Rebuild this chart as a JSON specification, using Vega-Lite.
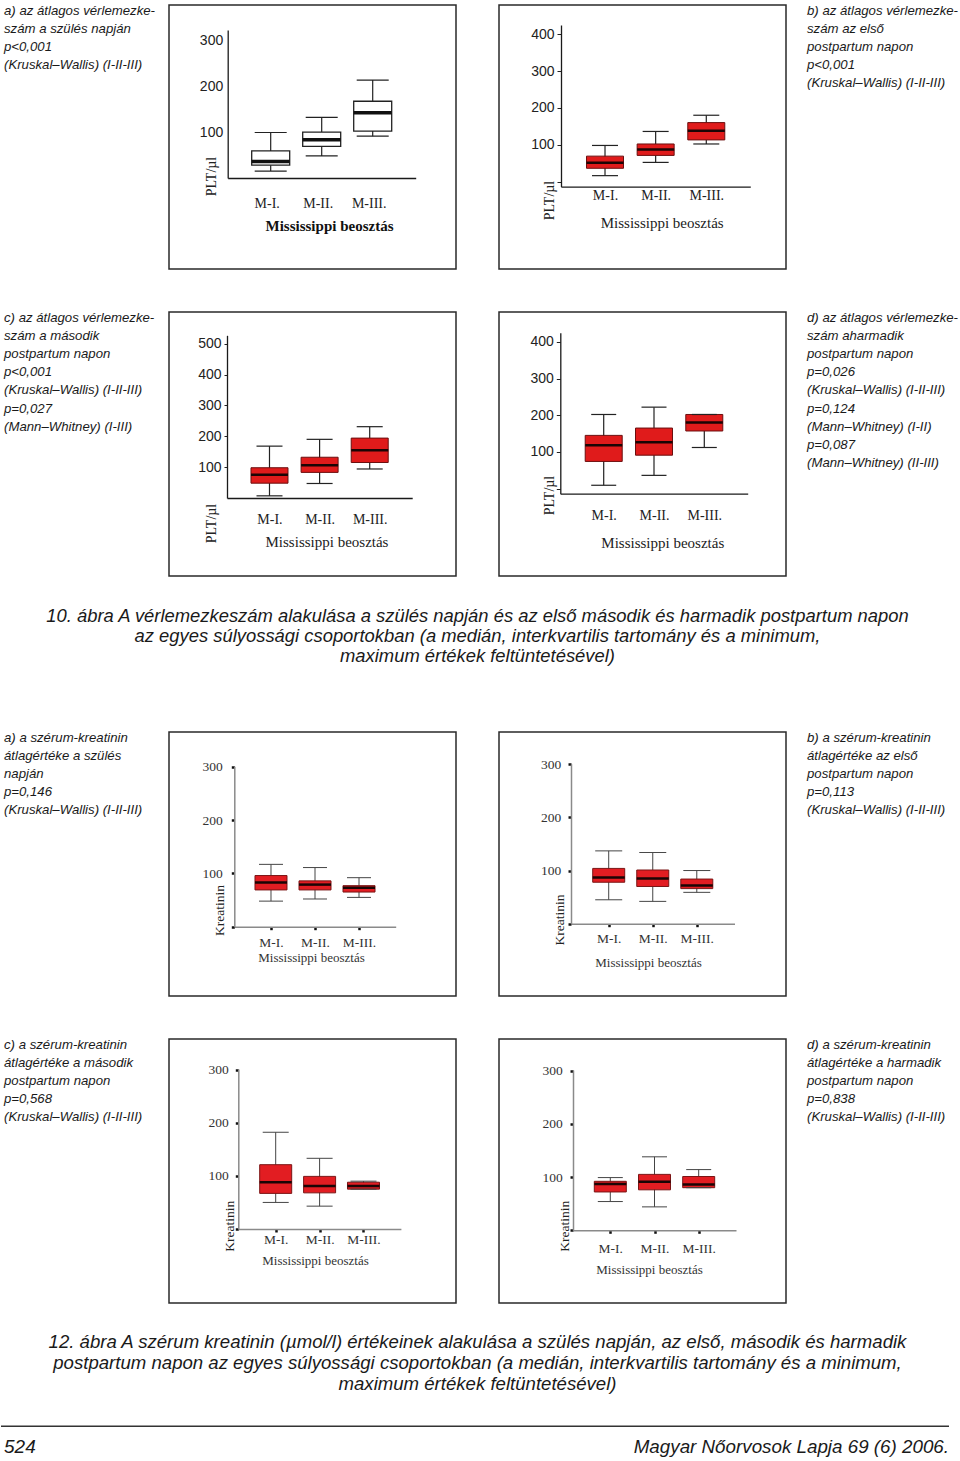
{
"$schema":"https://vega.github.io/schema/vega-lite/v6.json",
"padding":{"top":4,"left":0,"right":0,"bottom":0},
"background":"#ffffff",
"config":{"view":{"stroke":null},"axis":{"grid":false},"font":"Liberation Sans"},
"vconcat":[
{"hconcat":[
 {"width":168,"height":306,"data":{"values":[{"line":0,"text":"a) az átlagos vérlemezke-"},{"line":1,"text":"szám a szülés napján"},{"line":2,"text":"p<0,001"},{"line":3,"text":"(Kruskal–Wallis) (I-II-III)"}]},
  "mark":{"type":"text","align":"left","baseline":"middle","font":"Liberation Sans","fontStyle":"italic","fontSize":13.2,"color":"#1a1a1a"},
  "encoding":{"x":{"datum":0,"type":"quantitative","scale":{"domain":[0,1],"range":[3,100]},"axis":null},"y":{"field":"line","type":"quantitative","scale":{"domain":[0,10],"range":[6,187]},"axis":null},"text":{"field":"text"}}},
 {"width":287,"height":264,"view":{"stroke":"#2a2a2a","strokeWidth":1.5},
  "data":{"values":[{"group":"M-I.","min":15,"q1":28,"median":36,"q3":59,"max":99},{"group":"M-II.","min":48,"q1":69,"median":83,"q3":100,"max":132},{"group":"M-III.","min":91,"q1":102,"median":142,"q3":167,"max":213}]},
  "encoding":{"x":{"field":"group","type":"nominal","sort":null,"scale":{"type":"point","domain":["M-I.","M-II.","M-III."],"range":[58.7,246.7],"padding":0.843},
   "axis":{"orient":"bottom","offset":-91,"labelAngle":0,"labelBaseline":"middle","labelPadding":25,"labelOffset":-4,"ticks":true,"tickSize":0,"labelFont":"Liberation Serif","labelFontSize":14,"labelColor":"#222","domainColor":"#1a1a1a","domainWidth":1.3,"title":"Mississippi beosztás","titleX":160,"titleY":47,"titleAlign":"center","titleBaseline":"middle","titleFont":"Liberation Serif","titleFontSize":15,"titleFontWeight":"bold","titleColor":"#111"}}},
  "layer":[
   {"mark":{"type":"rule","color":"#222","strokeWidth":1.2},"encoding":{"y":{"field":"min","type":"quantitative","scale":{"domain":[0,322],"range":[173,25],"nice":false,"zero":false},
     "axis":{"orient":"left","offset":-58.7,"values":[100,200,300],"ticks":true,"tickSize":0,"labelPadding":5,"labelFont":"Liberation Sans","labelFontSize":14,"labelColor":"#222","domainColor":"#1a1a1a","domainWidth":1.3,"title":"PLT/µl","titleX":-16.7,"titleY":171,"titleAngle":270,"titleAlign":"center","titleBaseline":"middle","titleFont":"Liberation Serif","titleFontSize":14,"titleFontWeight":"normal","titleColor":"#222"}},"y2":{"field":"max"}}},
   {"mark":{"type":"bar","width":38,"fill":"#ffffff","stroke":"#222","strokeWidth":1.3},"encoding":{"y":{"field":"q1","type":"quantitative"},"y2":{"field":"q3"}}},
   {"mark":{"type":"tick","color":"#111","thickness":3.5,"size":38,"opacity":1},"encoding":{"y":{"field":"median","type":"quantitative"}}},
   {"mark":{"type":"tick","color":"#222","thickness":1.2,"size":32,"opacity":1},"encoding":{"y":{"field":"min","type":"quantitative"}}},
   {"mark":{"type":"tick","color":"#222","thickness":1.2,"size":32,"opacity":1},"encoding":{"y":{"field":"max","type":"quantitative"}}}
  ]},
 {"width":43,"height":264,"data":{"values":[{}]},"mark":{"type":"text"},"encoding":{"text":{"value":""}}},
 {"width":287,"height":264,"view":{"stroke":"#2a2a2a","strokeWidth":1.5},
  "data":{"values":[{"group":"M-I.","min":16,"q1":36,"median":51,"q3":69,"max":98},{"group":"M-II.","min":52,"q1":71,"median":87,"q3":102,"max":136},{"group":"M-III.","min":102,"q1":113,"median":138,"q3":160,"max":180}]},
  "encoding":{"x":{"field":"group","type":"nominal","sort":null,"scale":{"type":"point","domain":["M-I.","M-II.","M-III."],"range":[62,251.3],"padding":0.869},
   "axis":{"orient":"bottom","offset":-82.3,"labelAngle":0,"labelBaseline":"middle","labelPadding":9,"ticks":true,"tickSize":0,"labelFont":"Liberation Serif","labelFontSize":14,"labelColor":"#222","domainColor":"#1a1a1a","domainWidth":1.3,"title":"Mississippi beosztás","titleX":162.7,"titleY":36,"titleAlign":"center","titleBaseline":"middle","titleFont":"Liberation Serif","titleFontSize":15,"titleFontWeight":"normal","titleColor":"#222"}}},
  "layer":[
   {"mark":{"type":"rule","color":"#222","strokeWidth":1.2},"encoding":{"y":{"field":"min","type":"quantitative","scale":{"domain":[-14,425],"range":[181.7,20],"nice":false,"zero":false},
     "axis":{"orient":"left","offset":-62,"values":[0,100,200,300,400],"labelExpr":"datum.value === 0 ? '' : datum.label","ticks":true,"tickSize":4,"tickColor":"#222","labelPadding":3,"labelFont":"Liberation Sans","labelFontSize":14,"labelColor":"#222","domainColor":"#1a1a1a","domainWidth":1.3,"title":"PLT/µl","titleX":-12,"titleY":195,"titleAngle":270,"titleAlign":"center","titleBaseline":"middle","titleFont":"Liberation Serif","titleFontSize":14,"titleFontWeight":"normal","titleColor":"#222"}},"y2":{"field":"max"}}},
   {"mark":{"type":"bar","width":37,"fill":"#e01b1b","stroke":"#6b0f0f","strokeWidth":1},"encoding":{"y":{"field":"q1","type":"quantitative"},"y2":{"field":"q3"}}},
   {"mark":{"type":"tick","color":"#1a0505","thickness":2.5,"size":37,"opacity":1},"encoding":{"y":{"field":"median","type":"quantitative"}}},
   {"mark":{"type":"tick","color":"#222","thickness":1.2,"size":26,"opacity":1},"encoding":{"y":{"field":"min","type":"quantitative"}}},
   {"mark":{"type":"tick","color":"#222","thickness":1.2,"size":26,"opacity":1},"encoding":{"y":{"field":"max","type":"quantitative"}}}
  ]},
 {"width":175,"height":306,"data":{"values":[{"line":0,"text":"b) az átlagos vérlemezke-"},{"line":1,"text":"szám az első"},{"line":2,"text":"postpartum napon"},{"line":3,"text":"p<0,001"},{"line":4,"text":"(Kruskal–Wallis) (I-II-III)"}]},
  "mark":{"type":"text","align":"left","baseline":"middle","font":"Liberation Sans","fontStyle":"italic","fontSize":13.2,"color":"#1a1a1a"},
  "encoding":{"x":{"datum":0,"type":"quantitative","scale":{"domain":[0,1],"range":[21,100]},"axis":null},"y":{"field":"line","type":"quantitative","scale":{"domain":[0,10],"range":[6,187]},"axis":null},"text":{"field":"text"}}}
],"spacing":0,"bounds":"flush"},
{"hconcat":[
 {"width":168,"height":264,"data":{"values":[{"line":0,"text":"c) az átlagos vérlemezke-"},{"line":1,"text":"szám a második"},{"line":2,"text":"postpartum napon"},{"line":3,"text":"p<0,001"},{"line":4,"text":"(Kruskal–Wallis) (I-II-III)"},{"line":5,"text":"p=0,027"},{"line":6,"text":"(Mann–Whitney) (I-III)"}]},
  "mark":{"type":"text","align":"left","baseline":"middle","font":"Liberation Sans","fontStyle":"italic","fontSize":13.2,"color":"#1a1a1a"},
  "encoding":{"x":{"datum":0,"type":"quantitative","scale":{"domain":[0,1],"range":[3,100]},"axis":null},"y":{"field":"line","type":"quantitative","scale":{"domain":[0,10],"range":[6,187]},"axis":null},"text":{"field":"text"}}},
 {"width":287,"height":264,"view":{"stroke":"#2a2a2a","strokeWidth":1.5},
  "data":{"values":[{"group":"M-I.","min":7,"q1":48,"median":75,"q3":98,"max":168},{"group":"M-II.","min":47,"q1":83,"median":106,"q3":132,"max":190},{"group":"M-III.","min":94,"q1":115,"median":155,"q3":194,"max":231}]},
  "encoding":{"x":{"field":"group","type":"nominal","sort":null,"scale":{"type":"point","domain":["M-I.","M-II.","M-III."],"range":[58,243.2],"padding":0.848},
   "axis":{"orient":"bottom","offset":-78,"labelAngle":0,"labelBaseline":"middle","labelPadding":21,"ticks":true,"tickSize":0,"labelFont":"Liberation Serif","labelFontSize":14,"labelColor":"#222","domainColor":"#1a1a1a","domainWidth":1.3,"title":"Mississippi beosztás","titleX":157.5,"titleY":43,"titleAlign":"center","titleBaseline":"middle","titleFont":"Liberation Serif","titleFontSize":15,"titleFontWeight":"normal","titleColor":"#222"}}},
  "layer":[
   {"mark":{"type":"rule","color":"#222","strokeWidth":1.2},"encoding":{"y":{"field":"min","type":"quantitative","scale":{"domain":[0,527],"range":[186,23.3],"nice":false,"zero":false},
     "axis":{"orient":"left","offset":-58,"values":[100,200,300,400,500],"ticks":true,"tickSize":3,"tickColor":"#222","labelPadding":3,"labelFont":"Liberation Sans","labelFontSize":14,"labelColor":"#222","domainColor":"#1a1a1a","domainWidth":1.3,"title":"PLT/µl","titleX":-16,"titleY":211,"titleAngle":270,"titleAlign":"center","titleBaseline":"middle","titleFont":"Liberation Serif","titleFontSize":14,"titleFontWeight":"normal","titleColor":"#222"}},"y2":{"field":"max"}}},
   {"mark":{"type":"bar","width":37,"fill":"#e01b1b","stroke":"#6b0f0f","strokeWidth":1},"encoding":{"y":{"field":"q1","type":"quantitative"},"y2":{"field":"q3"}}},
   {"mark":{"type":"tick","color":"#1a0505","thickness":2.5,"size":37,"opacity":1},"encoding":{"y":{"field":"median","type":"quantitative"}}},
   {"mark":{"type":"tick","color":"#222","thickness":1.2,"size":26,"opacity":1},"encoding":{"y":{"field":"min","type":"quantitative"}}},
   {"mark":{"type":"tick","color":"#222","thickness":1.2,"size":26,"opacity":1},"encoding":{"y":{"field":"max","type":"quantitative"}}}
  ]},
 {"width":43,"height":264,"data":{"values":[{}]},"mark":{"type":"text"},"encoding":{"text":{"value":""}}},
 {"width":287,"height":264,"view":{"stroke":"#2a2a2a","strokeWidth":1.5},
  "data":{"values":[{"group":"M-I.","min":9,"q1":74,"median":118,"q3":145,"max":202},{"group":"M-II.","min":36,"q1":91,"median":126,"q3":165,"max":222},{"group":"M-III.","min":112,"q1":157,"median":180,"q3":202,"max":202}]},
  "encoding":{"x":{"field":"group","type":"nominal","sort":null,"scale":{"type":"point","domain":["M-I.","M-II.","M-III."],"range":[61.3,248.7],"padding":0.863},
   "axis":{"orient":"bottom","offset":-82.3,"labelAngle":0,"labelBaseline":"middle","labelPadding":21.6,"ticks":true,"tickSize":0,"labelFont":"Liberation Serif","labelFontSize":14,"labelColor":"#222","domainColor":"#1a1a1a","domainWidth":1.3,"title":"Mississippi beosztás","titleX":163.3,"titleY":48.3,"titleAlign":"center","titleBaseline":"middle","titleFont":"Liberation Serif","titleFontSize":15,"titleFontWeight":"normal","titleColor":"#222"}}},
  "layer":[
   {"mark":{"type":"rule","color":"#222","strokeWidth":1.2},"encoding":{"y":{"field":"min","type":"quantitative","scale":{"domain":[-14,425],"range":[181.7,20.7],"nice":false,"zero":false},
     "axis":{"orient":"left","offset":-61.3,"values":[0,100,200,300,400],"labelExpr":"datum.value === 0 ? '' : datum.label","ticks":true,"tickSize":4,"tickColor":"#222","labelPadding":3,"labelFont":"Liberation Sans","labelFontSize":14,"labelColor":"#222","domainColor":"#1a1a1a","domainWidth":1.3,"title":"PLT/µl","titleX":-11.3,"titleY":183,"titleAngle":270,"titleAlign":"center","titleBaseline":"middle","titleFont":"Liberation Serif","titleFontSize":14,"titleFontWeight":"normal","titleColor":"#222"}},"y2":{"field":"max"}}},
   {"mark":{"type":"bar","width":37,"fill":"#e01b1b","stroke":"#6b0f0f","strokeWidth":1},"encoding":{"y":{"field":"q1","type":"quantitative"},"y2":{"field":"q3"}}},
   {"mark":{"type":"tick","color":"#1a0505","thickness":2.5,"size":37,"opacity":1},"encoding":{"y":{"field":"median","type":"quantitative"}}},
   {"mark":{"type":"tick","color":"#222","thickness":1.2,"size":25,"opacity":1},"encoding":{"y":{"field":"min","type":"quantitative"}}},
   {"mark":{"type":"tick","color":"#222","thickness":1.2,"size":25,"opacity":1},"encoding":{"y":{"field":"max","type":"quantitative"}}}
  ]},
 {"width":175,"height":264,"data":{"values":[{"line":0,"text":"d) az átlagos vérlemezke-"},{"line":1,"text":"szám aharmadik"},{"line":2,"text":"postpartum napon"},{"line":3,"text":"p=0,026"},{"line":4,"text":"(Kruskal–Wallis) (I-II-III)"},{"line":5,"text":"p=0,124"},{"line":6,"text":"(Mann–Whitney) (I-II)"},{"line":7,"text":"p=0,087"},{"line":8,"text":"(Mann–Whitney) (II-III)"}]},
  "mark":{"type":"text","align":"left","baseline":"middle","font":"Liberation Sans","fontStyle":"italic","fontSize":13.2,"color":"#1a1a1a"},
  "encoding":{"x":{"datum":0,"type":"quantitative","scale":{"domain":[0,1],"range":[21,100]},"axis":null},"y":{"field":"line","type":"quantitative","scale":{"domain":[0,10],"range":[6,187]},"axis":null},"text":{"field":"text"}}}
],"spacing":0,"bounds":"flush"},
{"width":953,"height":154,"data":{"values":[{"line":0,"text":"10. ábra A vérlemezkeszám alakulása a szülés napján és az első második és harmadik postpartum napon"},{"line":1,"text":"az egyes súlyossági csoportokban (a medián, interkvartilis tartomány és a minimum,"},{"line":2,"text":"maximum értékek feltüntetésével)"}]},
 "mark":{"type":"text","align":"center","baseline":"middle","font":"Liberation Sans","fontStyle":"italic","fontSize":18.4,"color":"#1a1a1a"},
 "encoding":{"x":{"datum":0.5,"type":"quantitative","scale":{"domain":[0,1],"range":[0,953]},"axis":null},"y":{"field":"line","type":"quantitative","scale":{"domain":[0,2],"range":[38.75,78.75]},"axis":null},"text":{"field":"text"}}},
{"hconcat":[
 {"width":168,"height":306,"data":{"values":[{"line":0,"text":"a) a szérum-kreatinin"},{"line":1,"text":"átlagértéke a szülés"},{"line":2,"text":"napján"},{"line":3,"text":"p=0,146"},{"line":4,"text":"(Kruskal–Wallis) (I-II-III)"}]},
  "mark":{"type":"text","align":"left","baseline":"middle","font":"Liberation Sans","fontStyle":"italic","fontSize":13.2,"color":"#1a1a1a"},
  "encoding":{"x":{"datum":0,"type":"quantitative","scale":{"domain":[0,1],"range":[3,100]},"axis":null},"y":{"field":"line","type":"quantitative","scale":{"domain":[0,10],"range":[6,187]},"axis":null},"text":{"field":"text"}}},
 {"width":287,"height":264,"view":{"stroke":"#2a2a2a","strokeWidth":1.5},
  "data":{"values":[{"group":"M-I.","min":48,"q1":69,"median":83,"q3":96,"max":117},{"group":"M-II.","min":52,"q1":69,"median":79,"q3":86,"max":111},{"group":"M-III.","min":55,"q1":65,"median":73,"q3":77,"max":92}]},
  "encoding":{"x":{"field":"group","type":"nominal","sort":null,"scale":{"type":"point","domain":["M-I.","M-II.","M-III."],"range":[65.3,226.7],"padding":0.834},
   "axis":{"orient":"bottom","offset":-69.3,"labelAngle":0,"labelBaseline":"middle","labelPadding":13,"ticks":true,"tickSize":3,"tickWidth":2.5,"tickColor":"#111","labelFont":"Liberation Serif","labelFontSize":13.5,"labelColor":"#333","domainColor":"#8a8a8a","domainWidth":1.5,"title":"Mississippi beosztás","titleX":142,"titleY":31,"titleAlign":"center","titleBaseline":"middle","titleFont":"Liberation Serif","titleFontSize":13,"titleFontWeight":"normal","titleColor":"#333"}}},
  "layer":[
   {"mark":{"type":"rule","color":"#444","strokeWidth":1},"encoding":{"y":{"field":"min","type":"quantitative","scale":{"domain":[0,301],"range":[194.7,34.3],"nice":false,"zero":false},
     "axis":{"orient":"left","offset":-65.3,"values":[0,100,200,300],"labelExpr":"datum.value === 0 ? '' : datum.label","ticks":true,"tickSize":3,"tickWidth":2.5,"tickColor":"#111","labelPadding":9,"labelFont":"Liberation Serif","labelFontSize":13.5,"labelColor":"#333","domainColor":"#8a8a8a","domainWidth":1.5,"title":"Kreatinin","titleX":-14.6,"titleY":178,"titleAngle":270,"titleAlign":"center","titleBaseline":"middle","titleFont":"Liberation Serif","titleFontSize":13.5,"titleFontWeight":"normal","titleColor":"#222"}},"y2":{"field":"max"}}},
   {"mark":{"type":"bar","width":32,"fill":"#e21d22","stroke":"#7a1515","strokeWidth":1},"encoding":{"y":{"field":"q1","type":"quantitative"},"y2":{"field":"q3"}}},
   {"mark":{"type":"tick","color":"#1a0505","thickness":2.5,"size":32,"opacity":1},"encoding":{"y":{"field":"median","type":"quantitative"}}},
   {"mark":{"type":"tick","color":"#444","thickness":1,"size":24,"opacity":1},"encoding":{"y":{"field":"min","type":"quantitative"}}},
   {"mark":{"type":"tick","color":"#444","thickness":1,"size":24,"opacity":1},"encoding":{"y":{"field":"max","type":"quantitative"}}}
  ]},
 {"width":43,"height":264,"data":{"values":[{}]},"mark":{"type":"text"},"encoding":{"text":{"value":""}}},
 {"width":287,"height":264,"view":{"stroke":"#2a2a2a","strokeWidth":1.5},
  "data":{"values":[{"group":"M-I.","min":45,"q1":78,"median":87,"q3":104,"max":137},{"group":"M-II.","min":42,"q1":70,"median":85,"q3":101,"max":134},{"group":"M-III.","min":59,"q1":66,"median":72,"q3":84,"max":100}]},
  "encoding":{"x":{"field":"group","type":"nominal","sort":null,"scale":{"type":"point","domain":["M-I.","M-II.","M-III."],"range":[72,235.5],"padding":0.856},
   "axis":{"orient":"bottom","offset":-72.3,"labelAngle":0,"labelBaseline":"middle","labelPadding":12,"ticks":true,"tickSize":3,"tickWidth":2.5,"tickColor":"#111","labelFont":"Liberation Serif","labelFontSize":13.5,"labelColor":"#333","domainColor":"#8a8a8a","domainWidth":1.5,"title":"Mississippi beosztás","titleX":149,"titleY":38.3,"titleAlign":"center","titleBaseline":"middle","titleFont":"Liberation Serif","titleFontSize":13,"titleFontWeight":"normal","titleColor":"#333"}}},
  "layer":[
   {"mark":{"type":"rule","color":"#444","strokeWidth":1},"encoding":{"y":{"field":"min","type":"quantitative","scale":{"domain":[0,301],"range":[191.7,31.7],"nice":false,"zero":false},
     "axis":{"orient":"left","offset":-72,"values":[0,100,200,300],"labelExpr":"datum.value === 0 ? '' : datum.label","ticks":true,"tickSize":3,"tickWidth":2.5,"tickColor":"#111","labelPadding":7.3,"labelFont":"Liberation Serif","labelFontSize":13.5,"labelColor":"#333","domainColor":"#8a8a8a","domainWidth":1.5,"title":"Kreatinin","titleX":-12,"titleY":187.5,"titleAngle":270,"titleAlign":"center","titleBaseline":"middle","titleFont":"Liberation Serif","titleFontSize":13.5,"titleFontWeight":"normal","titleColor":"#222"}},"y2":{"field":"max"}}},
   {"mark":{"type":"bar","width":32,"fill":"#e21d22","stroke":"#7a1515","strokeWidth":1},"encoding":{"y":{"field":"q1","type":"quantitative"},"y2":{"field":"q3"}}},
   {"mark":{"type":"tick","color":"#1a0505","thickness":2.5,"size":32,"opacity":1},"encoding":{"y":{"field":"median","type":"quantitative"}}},
   {"mark":{"type":"tick","color":"#444","thickness":1,"size":27,"opacity":1},"encoding":{"y":{"field":"min","type":"quantitative"}}},
   {"mark":{"type":"tick","color":"#444","thickness":1,"size":27,"opacity":1},"encoding":{"y":{"field":"max","type":"quantitative"}}}
  ]},
 {"width":175,"height":306,"data":{"values":[{"line":0,"text":"b) a szérum-kreatinin"},{"line":1,"text":"átlagértéke az első"},{"line":2,"text":"postpartum napon"},{"line":3,"text":"p=0,113"},{"line":4,"text":"(Kruskal–Wallis) (I-II-III)"}]},
  "mark":{"type":"text","align":"left","baseline":"middle","font":"Liberation Sans","fontStyle":"italic","fontSize":13.2,"color":"#1a1a1a"},
  "encoding":{"x":{"datum":0,"type":"quantitative","scale":{"domain":[0,1],"range":[21,100]},"axis":null},"y":{"field":"line","type":"quantitative","scale":{"domain":[0,10],"range":[6,187]},"axis":null},"text":{"field":"text"}}}
],"spacing":0,"bounds":"flush"},
{"hconcat":[
 {"width":168,"height":264,"data":{"values":[{"line":0,"text":"c) a szérum-kreatinin"},{"line":1,"text":"átlagértéke a második"},{"line":2,"text":"postpartum napon"},{"line":3,"text":"p=0,568"},{"line":4,"text":"(Kruskal–Wallis) (I-II-III)"}]},
  "mark":{"type":"text","align":"left","baseline":"middle","font":"Liberation Sans","fontStyle":"italic","fontSize":13.2,"color":"#1a1a1a"},
  "encoding":{"x":{"datum":0,"type":"quantitative","scale":{"domain":[0,1],"range":[3,100]},"axis":null},"y":{"field":"line","type":"quantitative","scale":{"domain":[0,10],"range":[6,187]},"axis":null},"text":{"field":"text"}}},
 {"width":287,"height":264,"view":{"stroke":"#2a2a2a","strokeWidth":1.5},
  "data":{"values":[{"group":"M-I.","min":50,"q1":67,"median":88,"q3":121,"max":182},{"group":"M-II.","min":43,"q1":68,"median":81,"q3":99,"max":133},{"group":"M-III.","min":75,"q1":75,"median":81,"q3":88,"max":90}]},
  "encoding":{"x":{"field":"group","type":"nominal","sort":null,"scale":{"type":"point","domain":["M-I.","M-II.","M-III."],"range":[69.3,231.9],"padding":0.852},
   "axis":{"orient":"bottom","offset":-74,"labelAngle":0,"labelBaseline":"middle","labelPadding":7,"ticks":true,"tickSize":3,"tickWidth":2.5,"tickColor":"#111","labelFont":"Liberation Serif","labelFontSize":13.5,"labelColor":"#333","domainColor":"#8a8a8a","domainWidth":1.5,"title":"Mississippi beosztás","titleX":146,"titleY":31.7,"titleAlign":"center","titleBaseline":"middle","titleFont":"Liberation Serif","titleFontSize":13,"titleFontWeight":"normal","titleColor":"#333"}}},
  "layer":[
   {"mark":{"type":"rule","color":"#444","strokeWidth":1},"encoding":{"y":{"field":"min","type":"quantitative","scale":{"domain":[0,301],"range":[190,30],"nice":false,"zero":false},
     "axis":{"orient":"left","offset":-69.3,"values":[0,100,200,300],"labelExpr":"datum.value === 0 ? '' : datum.label","ticks":true,"tickSize":3,"tickWidth":2.5,"tickColor":"#111","labelPadding":7,"labelFont":"Liberation Serif","labelFontSize":13.5,"labelColor":"#333","domainColor":"#8a8a8a","domainWidth":1.5,"title":"Kreatinin","titleX":-9.3,"titleY":186.7,"titleAngle":270,"titleAlign":"center","titleBaseline":"middle","titleFont":"Liberation Serif","titleFontSize":13.5,"titleFontWeight":"normal","titleColor":"#222"}},"y2":{"field":"max"}}},
   {"mark":{"type":"bar","width":32,"fill":"#e21d22","stroke":"#7a1515","strokeWidth":1},"encoding":{"y":{"field":"q1","type":"quantitative"},"y2":{"field":"q3"}}},
   {"mark":{"type":"tick","color":"#1a0505","thickness":2.5,"size":32,"opacity":1},"encoding":{"y":{"field":"median","type":"quantitative"}}},
   {"mark":{"type":"tick","color":"#444","thickness":1,"size":26,"opacity":1},"encoding":{"y":{"field":"min","type":"quantitative"}}},
   {"mark":{"type":"tick","color":"#444","thickness":1,"size":26,"opacity":1},"encoding":{"y":{"field":"max","type":"quantitative"}}}
  ]},
 {"width":43,"height":264,"data":{"values":[{}]},"mark":{"type":"text"},"encoding":{"text":{"value":""}}},
 {"width":287,"height":264,"view":{"stroke":"#2a2a2a","strokeWidth":1.5},
  "data":{"values":[{"group":"M-I.","min":54,"q1":72,"median":87,"q3":92,"max":99},{"group":"M-II.","min":44,"q1":76,"median":91,"q3":105,"max":138},{"group":"M-III.","min":80,"q1":80,"median":86,"q3":101,"max":114}]},
  "encoding":{"x":{"field":"group","type":"nominal","sort":null,"scale":{"type":"point","domain":["M-I.","M-II.","M-III."],"range":[74,237],"padding":0.844},
   "axis":{"orient":"bottom","offset":-72.7,"labelAngle":0,"labelBaseline":"middle","labelPadding":14.7,"ticks":true,"tickSize":3,"tickWidth":2.5,"tickColor":"#111","labelFont":"Liberation Serif","labelFontSize":13.5,"labelColor":"#333","domainColor":"#8a8a8a","domainWidth":1.5,"title":"Mississippi beosztás","titleX":150,"titleY":38.7,"titleAlign":"center","titleBaseline":"middle","titleFont":"Liberation Serif","titleFontSize":13,"titleFontWeight":"normal","titleColor":"#333"}}},
  "layer":[
   {"mark":{"type":"rule","color":"#444","strokeWidth":1},"encoding":{"y":{"field":"min","type":"quantitative","scale":{"domain":[0,301],"range":[191.3,31],"nice":false,"zero":false},
     "axis":{"orient":"left","offset":-74,"values":[0,100,200,300],"labelExpr":"datum.value === 0 ? '' : datum.label","ticks":true,"tickSize":3,"tickWidth":2.5,"tickColor":"#111","labelPadding":7.7,"labelFont":"Liberation Serif","labelFontSize":13.5,"labelColor":"#333","domainColor":"#8a8a8a","domainWidth":1.5,"title":"Kreatinin","titleX":-9,"titleY":186.7,"titleAngle":270,"titleAlign":"center","titleBaseline":"middle","titleFont":"Liberation Serif","titleFontSize":13.5,"titleFontWeight":"normal","titleColor":"#222"}},"y2":{"field":"max"}}},
   {"mark":{"type":"bar","width":32,"fill":"#e21d22","stroke":"#7a1515","strokeWidth":1},"encoding":{"y":{"field":"q1","type":"quantitative"},"y2":{"field":"q3"}}},
   {"mark":{"type":"tick","color":"#1a0505","thickness":2.5,"size":32,"opacity":1},"encoding":{"y":{"field":"median","type":"quantitative"}}},
   {"mark":{"type":"tick","color":"#444","thickness":1,"size":25,"opacity":1},"encoding":{"y":{"field":"min","type":"quantitative"}}},
   {"mark":{"type":"tick","color":"#444","thickness":1,"size":25,"opacity":1},"encoding":{"y":{"field":"max","type":"quantitative"}}}
  ]},
 {"width":175,"height":264,"data":{"values":[{"line":0,"text":"d) a szérum-kreatinin"},{"line":1,"text":"átlagértéke a harmadik"},{"line":2,"text":"postpartum napon"},{"line":3,"text":"p=0,838"},{"line":4,"text":"(Kruskal–Wallis) (I-II-III)"}]},
  "mark":{"type":"text","align":"left","baseline":"middle","font":"Liberation Sans","fontStyle":"italic","fontSize":13.2,"color":"#1a1a1a"},
  "encoding":{"x":{"datum":0,"type":"quantitative","scale":{"domain":[0,1],"range":[21,100]},"axis":null},"y":{"field":"line","type":"quantitative","scale":{"domain":[0,10],"range":[6,187]},"axis":null},"text":{"field":"text"}}}
],"spacing":0,"bounds":"flush"},
{"width":953,"height":100,"data":{"values":[{"line":0,"text":"12. ábra A szérum kreatinin (µmol/l) értékeinek alakulása a szülés napján, az első, második és harmadik"},{"line":1,"text":"postpartum napon az egyes súlyossági csoportokban (a medián, interkvartilis tartomány és a minimum,"},{"line":2,"text":"maximum értékek feltüntetésével)"}]},
 "mark":{"type":"text","align":"center","baseline":"middle","font":"Liberation Sans","fontStyle":"italic","fontSize":18.6,"color":"#1a1a1a"},
 "encoding":{"x":{"datum":0.5,"type":"quantitative","scale":{"domain":[0,1],"range":[0,953]},"axis":null},"y":{"field":"line","type":"quantitative","scale":{"domain":[0,2],"range":[38.25,80.25]},"axis":null},"text":{"field":"text"}}},
{"width":948,"height":58,
 "layer":[
  {"data":{"values":[{"kind":"rule"}]},"mark":{"type":"rule","color":"#333","strokeWidth":1.5},"encoding":{"y":{"datum":0,"type":"quantitative","scale":{"domain":[0,1],"range":[22.25,43.25]},"axis":null}}},
  {"data":{"values":[{"text":"524"}]},"mark":{"type":"text","align":"left","baseline":"middle","font":"Liberation Sans","fontStyle":"italic","fontSize":19,"color":"#1a1a1a"},
   "encoding":{"x":{"datum":0,"type":"quantitative","scale":{"domain":[0,1],"range":[3,948]},"axis":null},"y":{"datum":1,"type":"quantitative"},"text":{"field":"text"}}},
  {"data":{"values":[{"text":"Magyar Nőorvosok Lapja 69 (6) 2006."}]},"mark":{"type":"text","align":"right","baseline":"middle","font":"Liberation Sans","fontStyle":"italic","fontSize":18.8,"color":"#1a1a1a"},
   "encoding":{"x":{"datum":1,"type":"quantitative"},"y":{"datum":1,"type":"quantitative"},"text":{"field":"text"}}}
 ]}
],
"spacing":0
}
